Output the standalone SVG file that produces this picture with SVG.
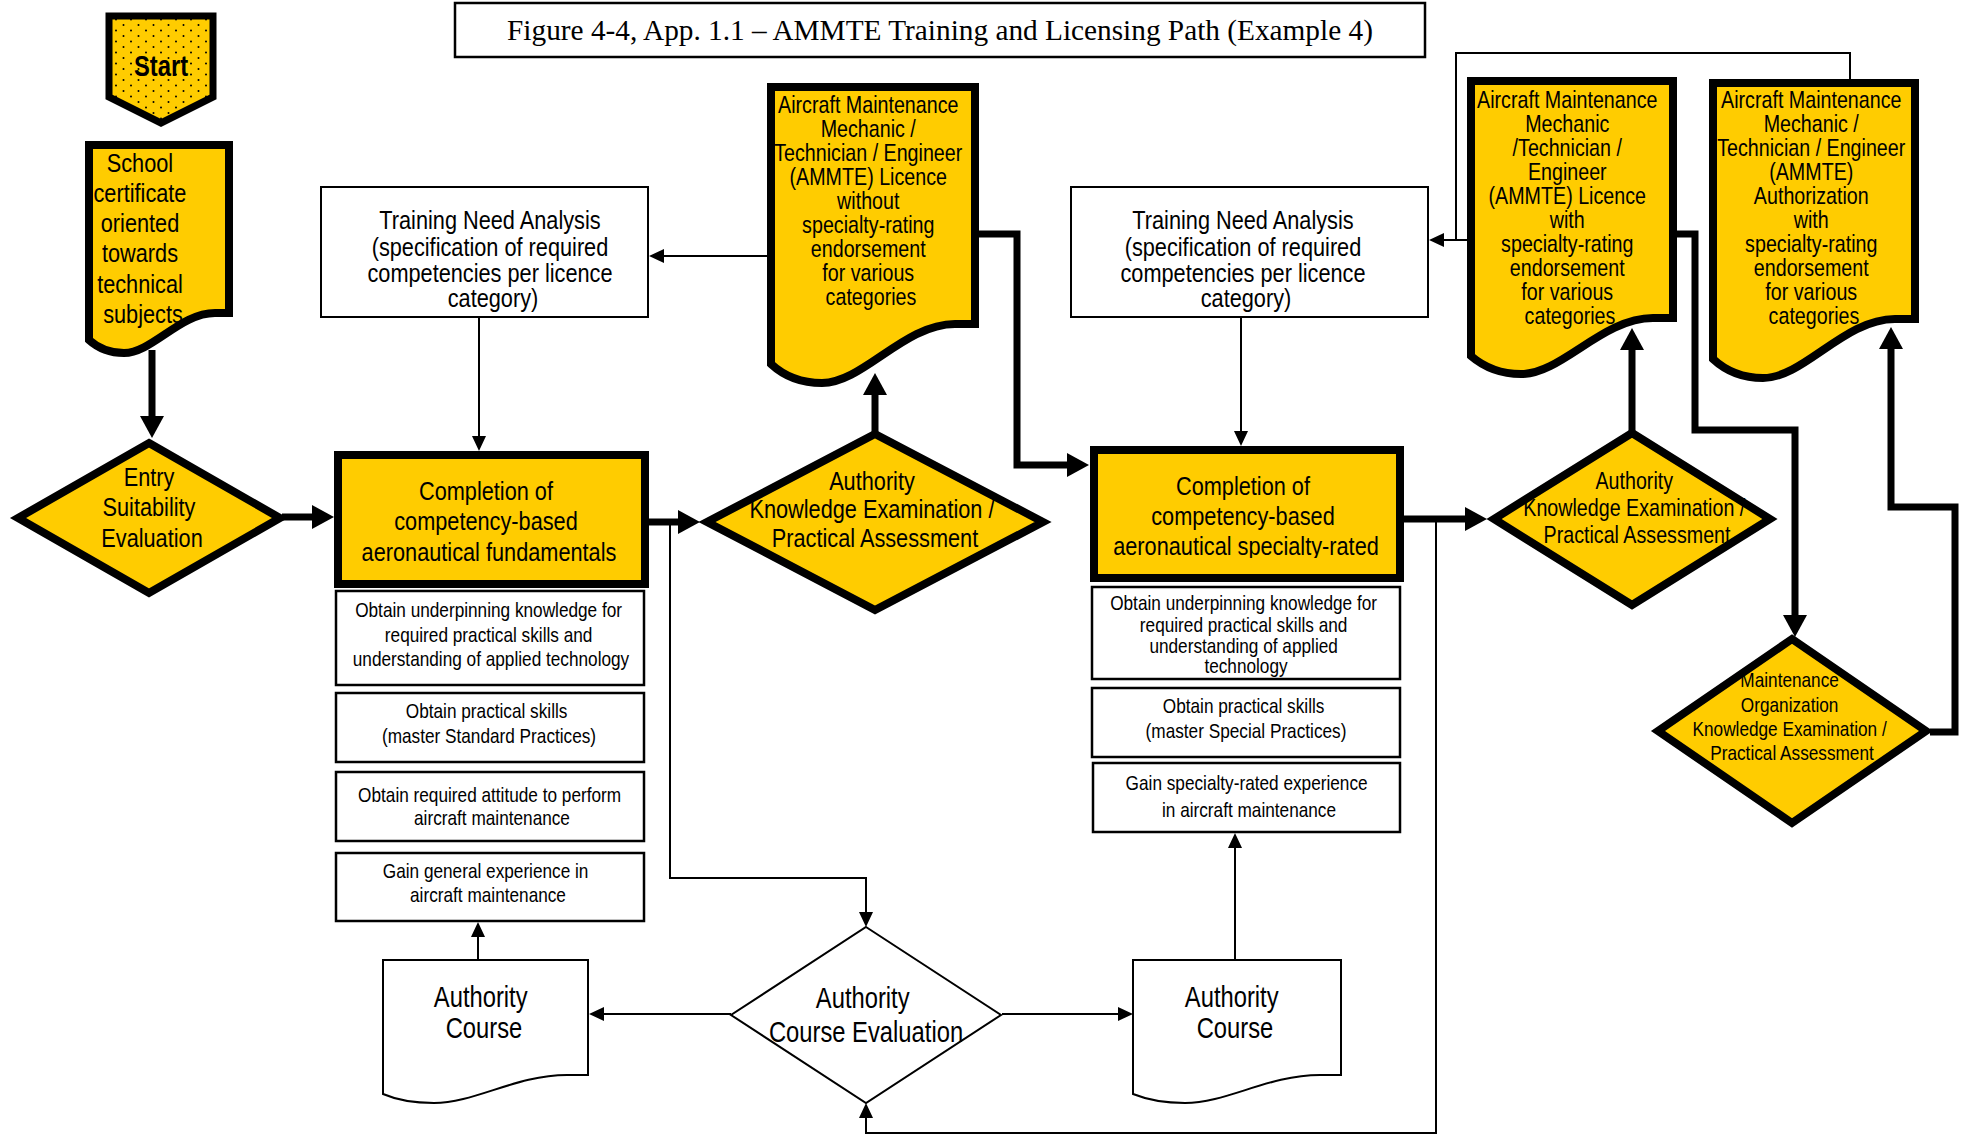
<svg xmlns="http://www.w3.org/2000/svg" width="1965" height="1136" viewBox="0 0 1965 1136">
  <style>
    .t { font-family: "Liberation Sans", Arial, sans-serif; text-anchor: middle; fill: #000; }
    .f21 { font-size: 21px; }
    .f24 { font-size: 24px; }
    .f26 { font-size: 26.5px; }
    .f29 { font-size: 29px; }
    .title { font-family: "Liberation Serif", "Times New Roman", serif; font-size: 29.3px; text-anchor: middle; }
    .thick { fill: #FFCC00; stroke: #000; stroke-width: 8; stroke-linejoin: miter; stroke-miterlimit: 10; }
    .thin { fill: #fff; stroke: #000; stroke-width: 2; }
    .sub { fill: #fff; stroke: #000; stroke-width: 2.5; }
    .cw { fill: none; stroke: #000; stroke-width: 7; stroke-linejoin: miter; }
    .cn { fill: none; stroke: #000; stroke-width: 2; }
  </style>
  <defs>
    <pattern id="dots" width="15" height="11" patternUnits="userSpaceOnUse">
      <rect width="15" height="11" fill="#FFCC00"/>
      <circle cx="3.5" cy="3" r="1" fill="#000"/>
      <circle cx="11" cy="8.5" r="1" fill="#000"/>
    </pattern>
    <marker id="ah" viewBox="0 0 22 24" refX="1" refY="12" markerWidth="22" markerHeight="24" markerUnits="userSpaceOnUse" orient="auto">
      <path d="M0,0 L22,12 L0,24 Z" fill="#000"/>
    </marker>
    <marker id="at" viewBox="0 0 15 14" refX="1" refY="7" markerWidth="15" markerHeight="14" markerUnits="userSpaceOnUse" orient="auto">
      <path d="M0,0 L15,7 L0,14 Z" fill="#000"/>
    </marker>
    <clipPath id="clipC2">
      <rect x="1094" y="450" width="306" height="108"/>
    </clipPath>
  </defs>

  <rect width="1965" height="1136" fill="#fff"/>

  <!-- Title -->
  <g id="title">
    <rect x="455" y="3" width="970" height="54" fill="#fff" stroke="#000" stroke-width="2.5"/>
    <text class="title" x="940" y="40">Figure 4-4, App. 1.1 – AMMTE Training and Licensing Path (Example 4)</text>
  </g>

  <!-- Connectors -->
  <g id="connectors">
    <!-- thick flow -->
    <path class="cw" d="M152,350 V417" marker-end="url(#ah)"/>
    <path class="cw" d="M282,517 H313" marker-end="url(#ah)"/>
    <path class="cw" d="M649,522 H679" marker-end="url(#ah)"/>
    <path class="cw" d="M875,434 V394" marker-end="url(#ah)"/>
    <path class="cw" d="M979,234 H1017 V465 H1068" marker-end="url(#ah)"/>
    <path class="cw" d="M1404,519 H1466" marker-end="url(#ah)"/>
    <path class="cw" d="M1632,433 V349" marker-end="url(#ah)"/>
    <path class="cw" d="M1677,234 H1695 V430 H1795 V616" marker-end="url(#ah)"/>
    <path class="cw" d="M1930,732 H1955 V507 H1891 V348" marker-end="url(#ah)"/>
    <!-- thin flow -->
    <path class="cn" d="M479,317 V437" marker-end="url(#at)"/>
    <path class="cn" d="M767,256 H663" marker-end="url(#at)"/>
    <path class="cn" d="M1241,317 V432" marker-end="url(#at)"/>
    <path class="cn" d="M1467,240 H1443" marker-end="url(#at)"/>
    <path class="cn" d="M1850,79 V53 H1456 V240"/>
    <path class="cn" d="M670,522 V878 H866 V913" marker-end="url(#at)"/>
    <path class="cn" d="M1436,519 V1133 H866 V1117" marker-end="url(#at)"/>
    <path class="cn" d="M731,1014 H603" marker-end="url(#at)"/>
    <path class="cn" d="M1002,1014 H1119" marker-end="url(#at)"/>
    <path class="cn" d="M478,960 V936" marker-end="url(#at)"/>
    <path class="cn" d="M1235,960 V847" marker-end="url(#at)"/>
  </g>

  <!-- Start -->
  <g id="start">
    <path d="M109,16 H213 V97 L161,123 L109,97 Z" fill="url(#dots)" stroke="#000" stroke-width="7"/>
    <text class="t f29" transform="matrix(0.82 0 0 1 161 0)" font-weight="bold"><tspan x="0" y="76">Start</tspan></text>
  </g>

  <!-- School certificate -->
  <g id="school">
    <path class="thick" d="M89,145 H229 V313 H215 C180,313 152,353 124,353 C110,353 99,349 89,340 Z"/>
    <text class="t f26" transform="matrix(0.82 0 0 1 143 0)">
      <tspan x="0" y="172">School</tspan>
      <tspan x="0" y="202">certificate</tspan>
      <tspan x="0" y="232">oriented</tspan>
      <tspan x="0" y="262">towards</tspan>
      <tspan x="0" y="293">technical</tspan>
      <tspan x="0" y="323">subjects</tspan>
    </text>
  </g>

  <!-- Entry Suitability Evaluation -->
  <g id="entry">
    <path class="thick" d="M149,443 L280,518 L149,593 L18,518 Z"/>
    <text class="t f26" transform="matrix(0.82 0 0 1 152 0)">
      <tspan x="0" y="486">Entry</tspan>
      <tspan x="0" y="516">Suitability</tspan>
      <tspan x="0" y="547">Evaluation</tspan>
    </text>
  </g>

  <!-- Training Need Analysis (fundamentals) -->
  <g id="tna1">
    <rect class="thin" x="321" y="187" width="327" height="130"/>
    <text class="t f26" transform="matrix(0.82 0 0 1 493 0)">
      <tspan x="0" y="229">Training Need Analysis</tspan>
      <tspan x="0" y="256">(specification of required</tspan>
      <tspan x="0" y="282">competencies per licence</tspan>
      <tspan x="0" y="307">category)</tspan>
    </text>
  </g>

  <!-- Completion of fundamentals -->
  <g id="completion1">
    <rect class="thick" x="338" y="455" width="307" height="129"/>
    <text class="t f26" transform="matrix(0.82 0 0 1 489 0)">
      <tspan x="0" y="500">Completion of</tspan>
      <tspan x="0" y="530">competency-based</tspan>
      <tspan x="0" y="561">aeronautical fundamentals</tspan>
    </text>
  </g>

  <g id="fund-knowledge">
    <rect class="sub" x="336" y="591" width="308" height="94"/>
    <text class="t f21" transform="matrix(0.82 0 0 1 491 0)">
      <tspan x="0" y="617">Obtain underpinning knowledge for</tspan>
      <tspan x="0" y="642">required practical skills and</tspan>
      <tspan x="0" y="666">understanding of applied technology</tspan>
    </text>
  </g>
  <g id="fund-skills">
    <rect class="sub" x="336" y="693" width="308" height="69"/>
    <text class="t f21" transform="matrix(0.82 0 0 1 489 0)">
      <tspan x="0" y="718">Obtain practical skills</tspan>
      <tspan x="0" y="743">(master Standard Practices)</tspan>
    </text>
  </g>
  <g id="fund-attitude">
    <rect class="sub" x="336" y="772" width="308" height="69"/>
    <text class="t f21" transform="matrix(0.82 0 0 1 492 0)">
      <tspan x="0" y="802">Obtain required attitude to perform</tspan>
      <tspan x="0" y="825">aircraft maintenance</tspan>
    </text>
  </g>
  <g id="fund-experience">
    <rect class="sub" x="336" y="853" width="308" height="68"/>
    <text class="t f21" transform="matrix(0.82 0 0 1 488 0)">
      <tspan x="0" y="878">Gain general experience in</tspan>
      <tspan x="0" y="902">aircraft maintenance</tspan>
    </text>
  </g>

  <!-- Authority knowledge examination (fundamentals) -->
  <g id="exam1">
    <path class="thick" d="M875,434 L1043,522 L875,610 L707,522 Z"/>
    <text class="t f26" transform="matrix(0.82 0 0 1 875 0)">
      <tspan x="0" y="490">Authority</tspan>
      <tspan x="0" y="518">Knowledge Examination /</tspan>
      <tspan x="0" y="547">Practical Assessment</tspan>
    </text>
  </g>

  <!-- Licence without specialty rating -->
  <g id="licence1">
    <path class="thick" d="M771,87 H975 V324 H955 C904,324 863,383 822,383 C802,383 785,377 771,364 Z"/>
    <text class="t f24" transform="matrix(0.82 0 0 1 871 0)">
      <tspan x="0" y="113">Aircraft Maintenance</tspan>
      <tspan x="0" y="137">Mechanic /</tspan>
      <tspan x="0" y="161">Technician / Engineer</tspan>
      <tspan x="0" y="185">(AMMTE) Licence</tspan>
      <tspan x="0" y="209">without</tspan>
      <tspan x="0" y="233">specialty-rating</tspan>
      <tspan x="0" y="257">endorsement</tspan>
      <tspan x="0" y="281">for various</tspan>
      <tspan x="0" y="305">categories</tspan>
    </text>
  </g>

  <!-- Training Need Analysis (specialty) -->
  <g id="tna2">
    <rect class="thin" x="1071" y="187" width="357" height="130"/>
    <text class="t f26" transform="matrix(0.82 0 0 1 1246 0)">
      <tspan x="0" y="229">Training Need Analysis</tspan>
      <tspan x="0" y="256">(specification of required</tspan>
      <tspan x="0" y="282">competencies per licence</tspan>
      <tspan x="0" y="307">category)</tspan>
    </text>
  </g>

  <!-- Completion of specialty-rated -->
  <g id="completion2">
    <rect class="thick" x="1094" y="450" width="306" height="128"/>
    <g clip-path="url(#clipC2)">
      <text class="t f26" transform="matrix(0.82 0 0 1 1246 0)">
        <tspan x="0" y="495">Completion of</tspan>
        <tspan x="0" y="525">competency-based</tspan>
        <tspan x="0" y="555">aeronautical specialty-rated</tspan>
      </text>
    </g>
  </g>

  <g id="spec-knowledge">
    <rect class="sub" x="1092" y="587" width="308" height="92"/>
    <text class="t f21" transform="matrix(0.82 0 0 1 1246 0)">
      <tspan x="0" y="610">Obtain underpinning knowledge for</tspan>
      <tspan x="0" y="632">required practical skills and</tspan>
      <tspan x="0" y="653">understanding of applied</tspan>
      <tspan x="0" y="673">technology</tspan>
    </text>
  </g>
  <g id="spec-skills">
    <rect class="sub" x="1092" y="688" width="308" height="69"/>
    <text class="t f21" transform="matrix(0.82 0 0 1 1246 0)">
      <tspan x="0" y="713">Obtain practical skills</tspan>
      <tspan x="0" y="738">(master Special Practices)</tspan>
    </text>
  </g>
  <g id="spec-experience">
    <rect class="sub" x="1093" y="763" width="307" height="69"/>
    <text class="t f21" transform="matrix(0.82 0 0 1 1249 0)">
      <tspan x="0" y="790">Gain specialty-rated experience</tspan>
      <tspan x="0" y="817">in aircraft maintenance</tspan>
    </text>
  </g>

  <!-- Authority knowledge examination (specialty) -->
  <g id="exam2">
    <path class="thick" d="M1632,433 L1770,519 L1632,605 L1494,519 Z"/>
    <text class="t f24" transform="matrix(0.82 0 0 1 1637 0)">
      <tspan x="0" y="489">Authority</tspan>
      <tspan x="0" y="516">Knowledge Examination /</tspan>
      <tspan x="0" y="543">Practical Assessment</tspan>
    </text>
  </g>

  <!-- Licence with specialty rating -->
  <g id="licence2">
    <path class="thick" d="M1471,81 H1673 V318 H1653 C1602,318 1562,374 1521,374 C1501,374 1485,368 1471,356 Z"/>
    <text class="t f24" transform="matrix(0.82 0 0 1 1570 0)">
      <tspan x="0" y="108">Aircraft Maintenance</tspan>
      <tspan x="0" y="132">Mechanic</tspan>
      <tspan x="0" y="156">/Technician /</tspan>
      <tspan x="0" y="180">Engineer</tspan>
      <tspan x="0" y="204">(AMMTE) Licence</tspan>
      <tspan x="0" y="228">with</tspan>
      <tspan x="0" y="252">specialty-rating</tspan>
      <tspan x="0" y="276">endorsement</tspan>
      <tspan x="0" y="300">for various</tspan>
      <tspan x="0" y="324">categories</tspan>
    </text>
  </g>

  <!-- Authorization with specialty rating -->
  <g id="licence3">
    <path class="thick" d="M1713,83 H1915 V319 H1895 C1844,319 1804,378 1763,378 C1743,378 1727,372 1713,359 Z"/>
    <text class="t f24" transform="matrix(0.82 0 0 1 1814 0)">
      <tspan x="0" y="108">Aircraft Maintenance</tspan>
      <tspan x="0" y="132">Mechanic /</tspan>
      <tspan x="0" y="156">Technician / Engineer</tspan>
      <tspan x="0" y="180">(AMMTE)</tspan>
      <tspan x="0" y="204">Authorization</tspan>
      <tspan x="0" y="228">with</tspan>
      <tspan x="0" y="252">specialty-rating</tspan>
      <tspan x="0" y="276">endorsement</tspan>
      <tspan x="0" y="300">for various</tspan>
      <tspan x="0" y="324">categories</tspan>
    </text>
  </g>

  <!-- Maintenance organization examination -->
  <g id="mo-exam">
    <path class="thick" d="M1792,639 L1926,731 L1792,823 L1658,731 Z"/>
    <text class="t f21" transform="matrix(0.82 0 0 1 1792 0)">
      <tspan x="0" y="687">Maintenance</tspan>
      <tspan x="0" y="712">Organization</tspan>
      <tspan x="0" y="736">Knowledge Examination /</tspan>
      <tspan x="0" y="760">Practical Assessment</tspan>
    </text>
  </g>

  <!-- Authority course evaluation -->
  <g id="course-eval">
    <path class="thin" d="M866,927 L1001,1015 L866,1103 L731,1015 Z"/>
    <text class="t f29" transform="matrix(0.82 0 0 1 866 0)">
      <tspan x="0" y="1008">Authority</tspan>
      <tspan x="0" y="1042">Course Evaluation</tspan>
    </text>
  </g>

  <g id="course1">
    <path class="thin" d="M383,960 H588 V1075 H567 C516,1075 475,1103 434,1103 C414,1103 397,1100 383,1094 Z"/>
    <text class="t f29" transform="matrix(0.82 0 0 1 484 0)">
      <tspan x="0" y="1007">Authority</tspan>
      <tspan x="0" y="1038">Course</tspan>
    </text>
  </g>

  <g id="course2">
    <path class="thin" d="M1133,960 H1341 V1075 H1320 C1268,1075 1227,1103 1185,1103 C1164,1103 1148,1100 1133,1094 Z"/>
    <text class="t f29" transform="matrix(0.82 0 0 1 1235 0)">
      <tspan x="0" y="1007">Authority</tspan>
      <tspan x="0" y="1038">Course</tspan>
    </text>
  </g>
</svg>
